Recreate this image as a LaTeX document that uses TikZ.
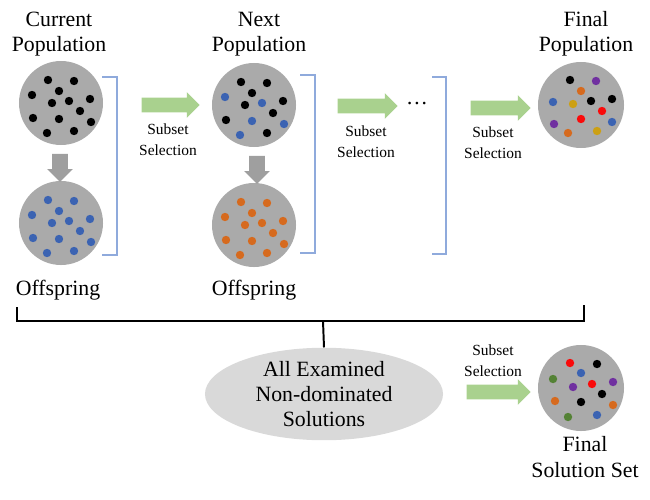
\documentclass[tikz,border=0pt]{standalone}
\usepackage{fontspec}
\setmainfont{Liberation Serif}
\usepackage{xcolor}
\usetikzlibrary{shapes.geometric,shapes.arrows}

\definecolor{popgray}{RGB}{170,170,170}
\definecolor{selgreen}{RGB}{169,209,142}
\definecolor{brblue}{RGB}{143,170,220}
\definecolor{dotblue}{RGB}{59,99,178}
\definecolor{dotorange}{RGB}{214,106,30}
\definecolor{dotpurple}{RGB}{112,48,160}
\definecolor{dotgold}{RGB}{204,160,20}
\definecolor{dotred}{RGB}{250,10,10}
\definecolor{dotgreen}{RGB}{84,130,53}
\definecolor{ellgray}{RGB}{217,217,217}

\tikzset{
  pop/.style={circle,fill=popgray,minimum size=2.1cm,inner sep=0pt},
  selarrow/.style={single arrow,fill=selgreen,inner sep=0.175cm,
    single arrow head extend=0.14cm,minimum height=#1},
  downarrow/.style={single arrow,fill=gray!75,shape border rotate=270,inner sep=0.19cm,
    single arrow head extend=0.125cm,minimum height=0.7cm},
  big/.style={font=\fontsize{15.5}{18}\selectfont,align=center},
  small/.style={font=\fontsize{11}{15}\selectfont,align=center},
}

% dot pattern shared by the populations
\def\patA{-13/-23,13/-22,-2/-12,-29/-8,29/-4,-9/0,8/-2,19/8,-28/15,-2/16,30/19,-14/30,13/28}

\begin{document}
\begin{tikzpicture}[x=0.025cm,y=-0.025cm]
  \useasboundingbox (0,0) rectangle (650,499);

  % populations
  \node[pop] (cur) at (61,103) {};
  \node[pop] (off1) at (61,223) {};
  \node[pop] (nxt) at (254,105) {};
  \node[pop] (off2) at (254,225) {};
  \node[pop,minimum size=2.15cm] (fin) at (581,105) {};
  \node[pop,minimum size=2.15cm] (sol) at (581,388) {};

  \foreach \dx/\dy in \patA
    \fill[black] (cur) ++(\dx,\dy) circle (0.105cm);
  \foreach \dx/\dy in \patA
    \fill[dotblue] (off1) ++(\dx,\dy) circle (0.105cm);
  \foreach \dx/\dy in \patA
    \fill[dotorange] (off2) ++(\dx,\dy) circle (0.105cm);
  \foreach \dx/\dy/\c in {-13/-23/black,13/-22/black,-2/-12/black,-29/-8/dotblue,29/-4/black,
      -9/0/black,8/-2/dotblue,19/8/black,-28/15/black,-2/16/dotblue,30/19/dotblue,-14/30/dotblue,13/28/black}
    \fill[\c] (nxt) ++(\dx,\dy) circle (0.105cm);
  \foreach \dx/\dy/\c in {-11/-25/black,15/-24/dotpurple,0/-14/dotorange,-28/-3/dotblue,-8/-1/dotgold,
      10/-4/black,31/-6/black,21/6/dotred,0/14/dotred,31/17/dotblue,-27/19/dotpurple,-13/28/dotorange,16/26/dotgold}
    \fill[\c] (fin) ++(\dx,\dy) circle (0.105cm);
  \foreach \dx/\dy/\c in {-11/-25/dotred,16/-24/black,0/-15/dotblue,-28/-9/dotgreen,-8/-1/dotpurple,
      11/-4/dotred,32/-6/dotpurple,21/6/black,-26/13/dotorange,0/14/black,32/17/dotorange,-13/29/dotgreen,16/27/dotblue}
    \fill[\c] (sol) ++(\dx,\dy) circle (0.105cm);

  % labels
  \node[big] (curlab) at (59,34) {Current\\Population};
  \node[big] (nxtlab) at (259,34) {Next\\Population};
  \node[big] (finlab) at (586,34) {Final\\Population};
  \node[big] (offlab1) at (58,290) {Offspring};
  \node[big] (offlab2) at (254,290) {Offspring};
  \node[big] (sollab) at (585,457) {Final\\Solution Set};
  \node[big] (more) at (417,104) {\dots};

  % variation
  \node[downarrow] (var1) at (60,164) {};
  \node[downarrow] (var2) at (257,166) {};

  % subset selection
  \node[selarrow=1.45cm] (sel1) at (167,105) {};
  \node[selarrow=1.5cm] (sel2) at (364,106) {};
  \node[selarrow=1.5cm] (sel3) at (497,108) {};
  \node[selarrow=1.6cm] (sel4) at (495,392) {};
  \node[small] (sellab1) at (168,140) {Subset\\Selection};
  \node[small] (sellab2) at (366,142) {Subset\\Selection};
  \node[small] (sellab3) at (493,143) {Subset\\Selection};
  \node[small] (sellab4) at (493,361) {Subset\\Selection};

  % brackets
  \draw[brblue,line width=1.2pt] (102,77) -- (117,77) -- (117,255) -- (102,255);
  \draw[brblue,line width=1.2pt] (300,75) -- (315,75) -- (315,253) -- (300,253);
  \draw[brblue,line width=1.2pt] (432,77) -- (446,77) -- (446,254) -- (432,254);
  \draw[line width=1.4pt] (17,307) -- (17,321) -- (584,321) -- (584,305);

  % archive
  \node[ellipse,fill=ellgray,minimum width=5.95cm,minimum height=1.8cm,inner sep=0pt,big,
    font=\fontsize{15.5}{17.8}\selectfont] (all) at (324,394) {All Examined\\Non-dominated\\Solutions};
  \coordinate (join) at (323,321);
  \draw[line width=1.4pt] (join) -- (all.north);
\end{tikzpicture}
\end{document}
